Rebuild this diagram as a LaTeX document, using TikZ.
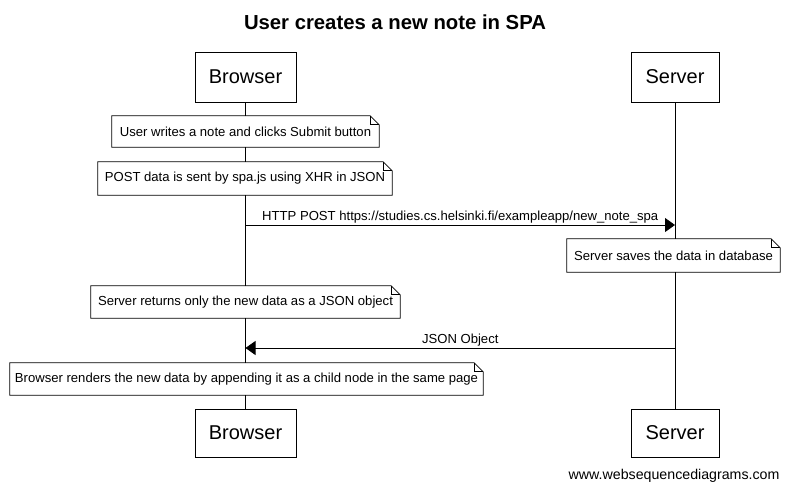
\documentclass[tikz,border=0pt]{standalone}
\usepackage{fontspec}
\setmainfont{Liberation Sans}
\usetikzlibrary{arrows.meta}
\tikzset{
  actor/.style={draw, line width=0.8pt, fill=white, minimum width=101pt, minimum height=50pt, inner sep=0pt, font=\fontsize{20}{24}\selectfont},
  noteshape/.style={inner sep=0pt, fill=white, font=\fontsize{13.1}{15}\selectfont},
  lifeline/.style={line width=0.8pt},
  msg/.style={line width=0.8pt, -{Triangle[length=10pt,width=14pt]}},
  msglabel/.style={font=\fontsize{13.1}{15}\selectfont, inner sep=0pt},
}
\newcommand{\drawnote}[1]{%
  \draw[line width=0.8pt] (#1.north west) -- ([xshift=-9pt]#1.north east) -- ([yshift=-9pt]#1.north east) -- (#1.south east) -- (#1.south west) -- cycle;
  \draw[line width=0.8pt] ([xshift=-9pt]#1.north east) -- ([xshift=-9pt,yshift=-9pt]#1.north east) -- ([yshift=-9pt]#1.north east);
}
\begin{document}
\begin{tikzpicture}[x=1pt,y=-1pt]
\useasboundingbox (0,0) rectangle (790,491);
\node[font=\fontsize{20.3}{24}\selectfont\bfseries] (title) at (395,22) {User creates a new note in SPA};
% actors
\node[actor] (btop) at (245.5,77) {Browser};
\node[actor, minimum width=88pt] (stop) at (675,77) {Server};
\node[actor, minimum height=48pt] (bbot) at (245.5,433) {Browser};
\node[actor, minimum width=88pt, minimum height=48pt] (sbot) at (675,433) {Server};
\draw[lifeline] (btop) -- (bbot);
\draw[lifeline] (stop) -- (sbot);
% notes
\node[noteshape, minimum width=267pt, minimum height=31pt] (n1) at (245.5,131.5) {User writes a note and clicks Submit button};
\drawnote{n1}
\node[noteshape, minimum width=294pt, minimum height=33pt] (n2) at (245,178.5) {POST data is sent by spa.js using XHR in JSON};
\drawnote{n2}
\node[noteshape, minimum width=213pt, minimum height=33pt] (n3) at (673.5,255.5) {Server saves the data in database};
\drawnote{n3}
\node[noteshape, minimum width=309pt, minimum height=32pt] (n4) at (245.5,302) {Server returns only the new data as a JSON object};
\drawnote{n4}
\node[noteshape, minimum width=473pt, minimum height=32pt] (n5) at (246.5,379) {Browser renders the new data by appending it as a child node in the same page};
\drawnote{n5}
% messages
\coordinate (m1a) at (245.5,225);
\coordinate (m1b) at (675,225);
\draw[msg] (m1a) -- (m1b) node[msglabel, midway, above=1pt] (l1) {HTTP POST https://studies.cs.helsinki.fi/exampleapp/new\_note\_spa};
\coordinate (m2a) at (675,348);
\coordinate (m2b) at (245.5,348);
\draw[msg] (m2a) -- (m2b) node[msglabel, midway, above=1pt] (l2) {JSON Object};
\node[font=\fontsize{14.2}{16}\selectfont, anchor=east] (footer) at (783,476) {www.websequencediagrams.com};
\end{tikzpicture}
\end{document}
